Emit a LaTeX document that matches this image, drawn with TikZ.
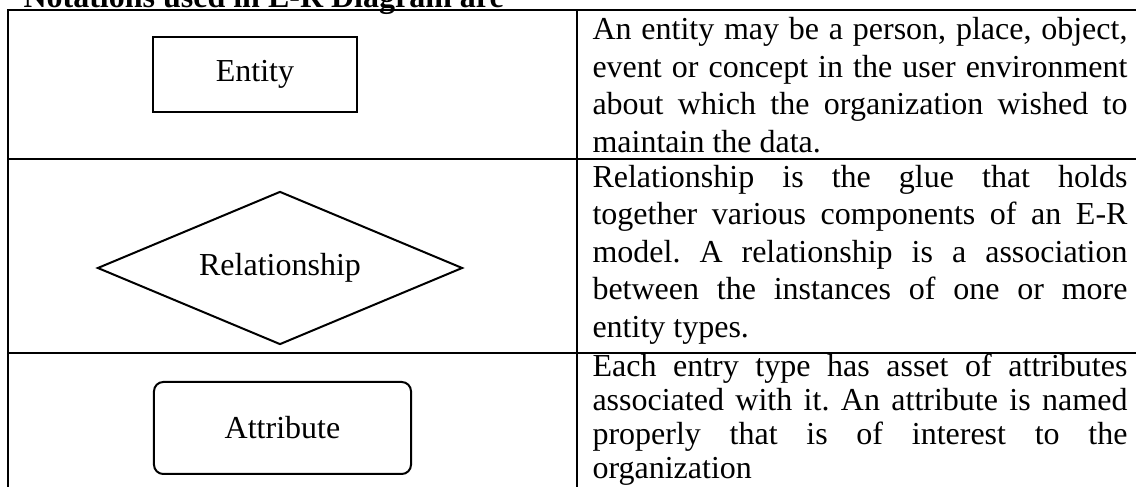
\documentclass[tikz,border=0pt]{standalone}
\usepackage{fontspec}
\setmainfont{Liberation Serif}
\usetikzlibrary{shapes.geometric, positioning}

\begin{document}
\frenchspacing
\begin{tikzpicture}[x=0.375pt, y=-0.375pt,
    grid/.style={draw=black, line width=0.6pt},
    notation/.style={draw=black, line width=0.75pt, inner sep=0pt, align=center, font=\fontsize{12}{14}\selectfont},
    desc/.style={anchor=base west, inner sep=0pt, font=\fontsize{12}{14.06}\selectfont}
]
\useasboundingbox (0,0) rectangle (1136,487);
\clip (0,0) rectangle (1136,487);

% heading, cut off by the top edge
\node (TITLE) [anchor=base west, inner sep=0pt, font=\fontsize{12}{14}\selectfont\bfseries] at (23,8) {Notations used in E-R Diagram are};

% table rules
\draw [grid] (8,520) -- (8,10) -- (1160,10);
\draw [grid] (577,10) -- (577,520);
\draw [grid] (8,159) -- (1160,159);
\draw [grid] (8,353) -- (1160,353);

% notation symbols
\node (ENTITY) [notation, rectangle, minimum width=76.5pt, minimum height=28.1pt] at (255,74.5) {Entity};
\node (REL)    [notation, diamond, aspect=2.39, minimum width=136.9pt, minimum height=57.4pt] at (280,268) {Relationship};
\node (ATTR)   [notation, rectangle, rounded corners=3.5pt, minimum width=96.4pt, minimum height=34.5pt] at (282.5,428) {Attribute};

% descriptions
\node (ENTITY_D) [desc] at (592,40) {\parbox[t]{200.6pt}{An entity may be a person, place, object,\linebreak
  event or concept in the user environment\linebreak
  about which the organization wished to\linebreak
  maintain the data.}};
\node (REL_D) [desc] at (592,187.5) {\parbox[t]{200.6pt}{Relationship is the glue that holds\linebreak
  together various components of an E-R\linebreak
  model. A relationship is a association\linebreak
  between the instances of one or more\linebreak
  entity types.}};
\node (ATTR_D) [desc, font=\fontsize{12}{12.75}\selectfont] at (592,377) {\parbox[t]{200.6pt}{Each entry type has asset of attributes\linebreak
  associated with it. An attribute is named\linebreak
  properly that is of interest to the\linebreak
  organization}};

\end{tikzpicture}
\end{document}
